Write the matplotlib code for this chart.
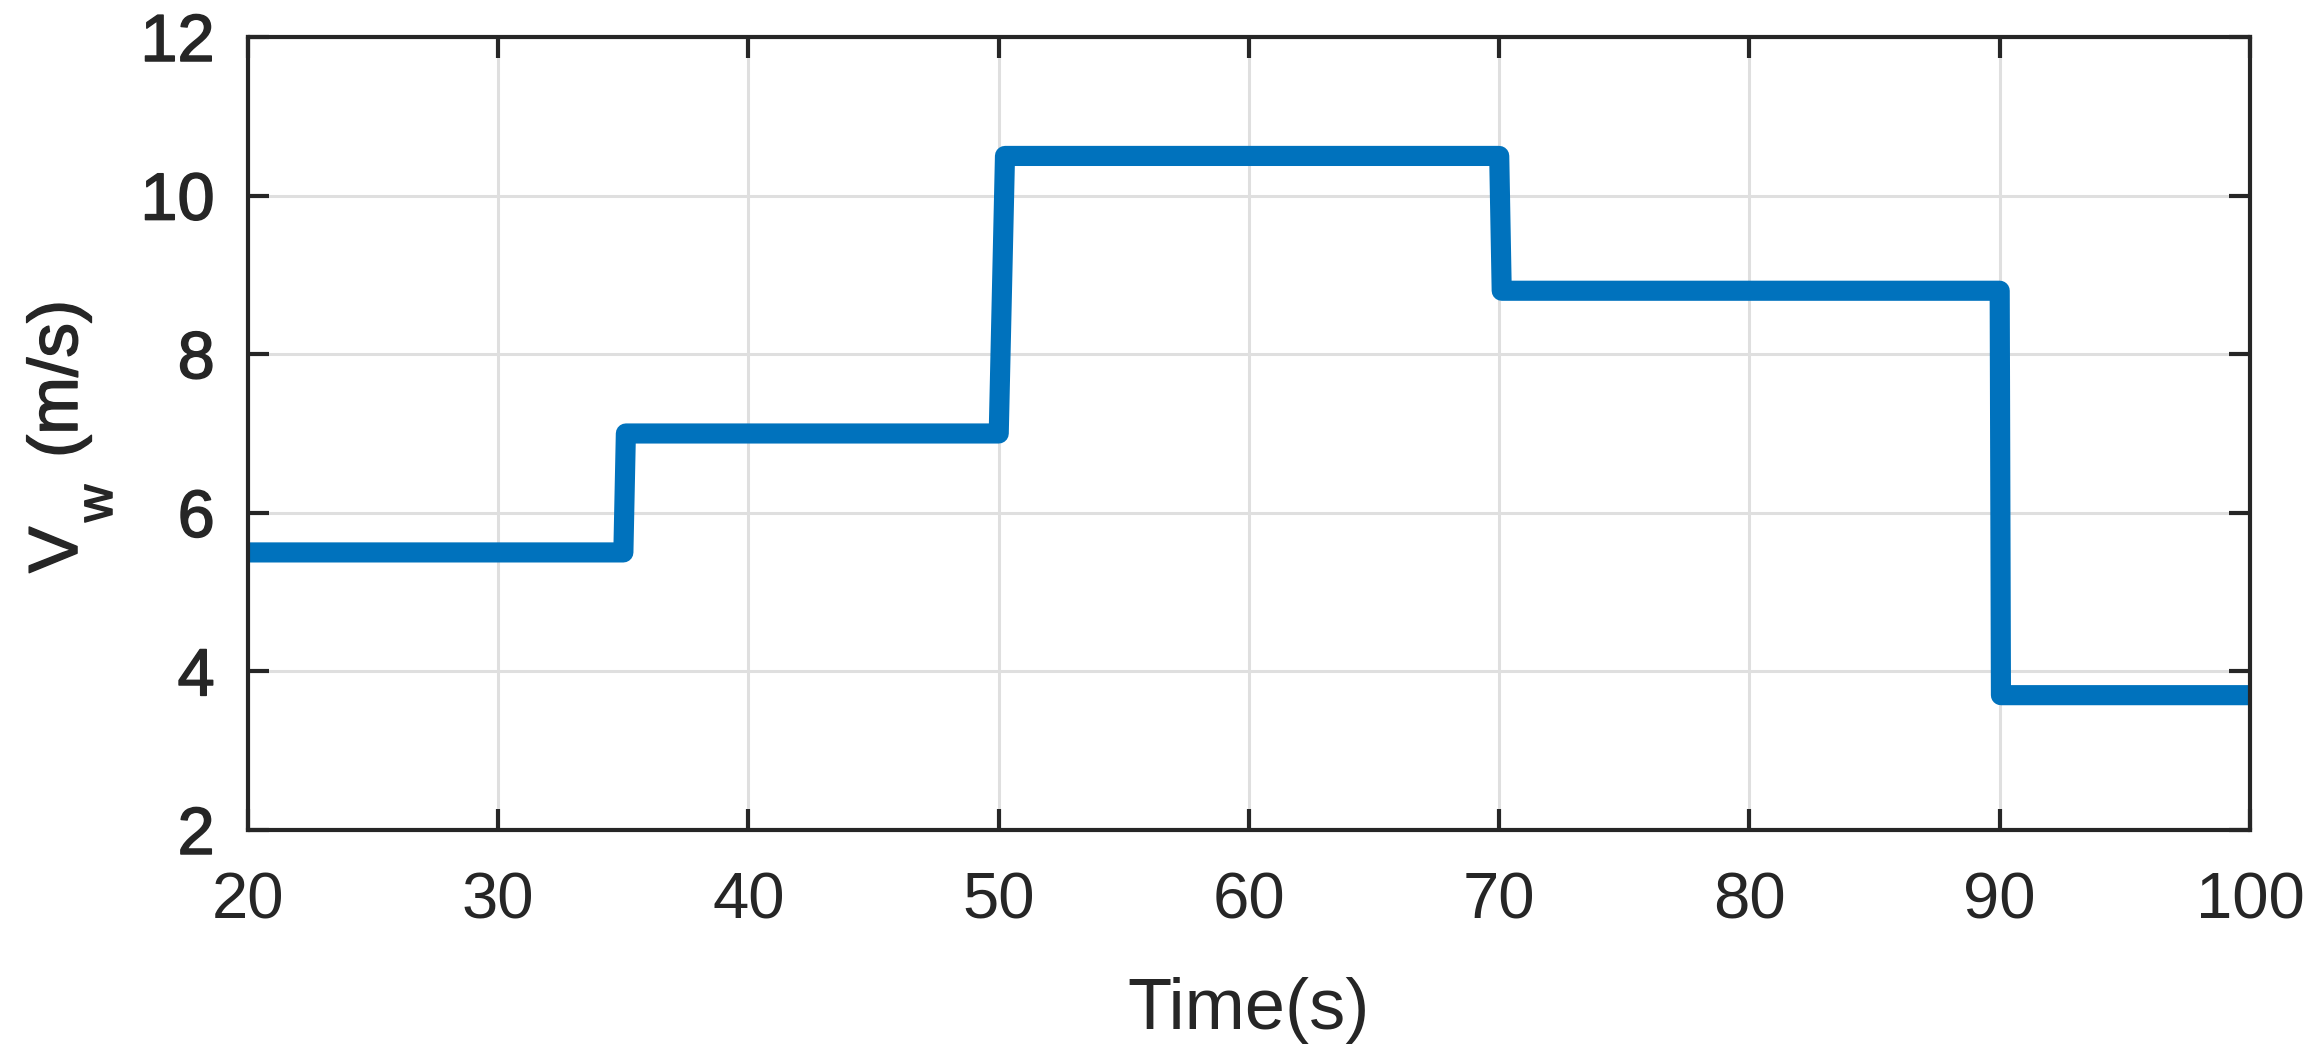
import matplotlib
matplotlib.use("Agg")
import matplotlib.pyplot as plt
import matplotlib.patheffects as pe

# wind speed step profile
time_s = [20, 35, 35.1, 50, 50.25, 70, 70.1, 90, 90.05, 100]
wind_speed = [5.5, 5.5, 7.0, 7.0, 10.5, 10.5, 8.8, 8.8, 3.7, 3.7]
x_ticks = [20, 30, 40, 50, 60, 70, 80, 90, 100]
y_ticks = [2, 4, 6, 8, 10, 12]

plt.rcParams['font.family'] = ['Liberation Sans', 'DejaVu Sans']

W, H = 2320, 1051
fig = plt.figure(figsize=(W / 100, H / 100), dpi=100)
ax = fig.add_axes([0.1069, 0.2103, 0.8629, 0.7545])

ax.plot(time_s, wind_speed, color='#0072BD', linewidth=14.5,
        solid_joinstyle='round', solid_capstyle='butt')

ax.set_xlim(20, 100)
ax.set_ylim(2, 12)
ax.set_xticks(x_ticks)
ax.set_yticks(y_ticks)
ax.grid(True, color='#dfdfdf', linewidth=2.2)
ax.set_axisbelow(True)

for sp in ax.spines.values():
    sp.set_linewidth(3)
    sp.set_color('#262626')

ax.tick_params(direction='in', length=15, width=3, color='#262626',
               top=True, right=True, labelcolor='#262626')
ax.tick_params(axis='x', labelsize=47, pad=30)
ax.tick_params(axis='y', labelsize=48, pad=24)

# the y side text in the original is a touch heavier than the x side
thick = [pe.withStroke(linewidth=1.1, foreground='#262626')]
for lbl in ax.get_yticklabels():
    lbl.set_path_effects(thick)

ax.set_xlabel('Time(s)', fontsize=52, color='#262626', labelpad=33)

# y label "V_w (m/s)" built from pieces so the subscript sits low, like the original
kw = dict(rotation=90, rotation_mode='anchor', ha='left', va='baseline',
          color='#262626', path_effects=thick)
fig.text(77 / W, 1 - 573 / H, 'V', fontsize=50, **kw)
fig.text(112 / W, 1 - 522 / H, 'w', fontsize=37, **kw)
fig.text(77 / W, 1 - 458 / H, '(m/s)', fontsize=50, **kw)

fig.savefig('out.png', dpi=100)
